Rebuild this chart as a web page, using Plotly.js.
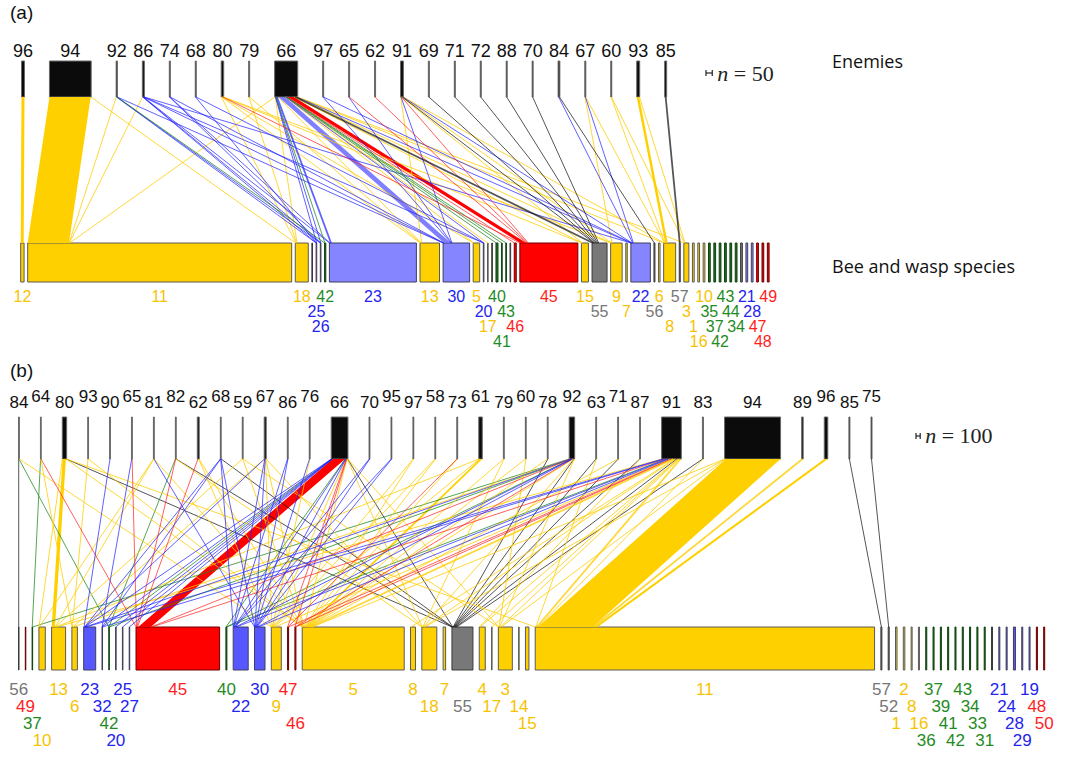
<!DOCTYPE html>
<html><head><meta charset="utf-8">
<script src="https://cdn.plot.ly/plotly-3.0.1.min.js"></script>
<style>html,body{margin:0;padding:0;background:#fff}#chart{width:1071px;height:776px}</style>
</head><body><div id="chart"></div>
<script>
// ================= Panel (a) data =================
const enemiesA = ['96','94','92','86','74','68','80','79','66','97','65','62','91','69','71','72','88','70','84','67','60','93','85'];
const beesA = ['12','11','18','','25','26','42','23','13','30','5','20','17','','40','41','43','','46','45','15','55','9','7','22','56','6','8','57','3','1','16','10','35','37','42','43','44','34','','21','28','47','48','49'];
const beeGroupsA = ['Y','Y','Y','K','B','B','G','B','Y','B','Y','B','Y','K','G','G','G','K','R','R','Y','K','Y','Y','B','K','Y','Y','K','Y','Y','Y','Y','G','G','G','G','G','G','K','B','B','R','R','R'];
const beeAbundA = [27,2112,104,5,5,5,10,696,156,212,52,5,5,5,16,5,5,5,16,464,56,120,92,12,156,8,12,96,8,40,14,14,14,14,14,14,14,14,14,14,14,14,14,14,14];
const linksA = [
 ['96','12',24],
 ['94','11',330],['94','18',4],
 ['92','11',2],['92','25',2],['92','26',2],['92','42',2],['92','30',2],
 ['86','11',2],['86','25',2],['86','26',2],['86','23',3],['86','20',2],['86','30',3],['86','22',2],
 ['74','26',3],['74','23',3],['74','30',2],
 ['68','25',4],['68','20',4],
 ['80','18',4],['80','13',4],['80','5',3],['80','45',3],['80','15',3],['80','9',3],
 ['79','18',4],['79','13',4],
 ['66','11',3],['66','18',3],['66','25',2],['66','26',2],['66','42',2],['66','23',14],['66','13',5],['66','30',55],['66','5',3],['66','20',2],['66','17',2],['66','40',4],['66','41',3],['66','43',3],['66','46',3],['66','45',50],['66','15',3],['66','55',14],['66','9',3],['66','22',3],['66','8',3],['66','3',3],
 ['97','30',4],['97','22',4],
 ['65','30',3],['65','45',5],
 ['62','45',8],
 ['91','13',3],['91','30',3],['91','45',3],['91','15',3],['91','55',3],['91','9',3],['91','22',2],['91','8',3],
 ['69','55',8],['71','55',8],['72','55',8],['88','55',8],['70','55',8],
 ['84','22',8],['84','56',6],
 ['67','9',3],['67','22',3],['67','8',2],
 ['60','8',4],['60','3',4],
 ['93','8',20],['93','3',4],
 ['85','57',16]
];

// ================= Panel (b) data =================
const enemiesB = ['84','64','80','93','90','65','81','82','62','68','59','67','86','76','66','70','95','97','58','73','61','79','60','78','92','63','71','87','91','83','94','89','96','85','75'];
const beesB = ['56','49','37','10','13','6','23','32','42','20','25','27','45','40','22','30','9','47','46','5','8','18','7','55','4','17','3','14','15','11','57','52','1','2','8','16','36','37','39','41','42','43','34','33','31','','21','24','28','29','19','48','50'];
const beeGroupsB = ['K','R','G','Y','Y','Y','B','B','G','B','B','B','R','G','B','B','Y','R','R','Y','Y','Y','Y','K','Y','Y','Y','Y','Y','Y','K','K','Y','Y','Y','Y','G','G','G','G','G','G','G','G','G','K','B','B','B','B','B','R','R'];
const beeAbundB = [12,12,12,152,333,131,286,12,12,12,12,12,1990,24,357,250,238,24,24,2429,119,357,60,500,143,12,333,12,83,8080,24,24,36,36,24,24,24,24,24,24,24,24,24,24,24,24,24,24,48,24,24,24,24];
const linksB = [
 ['84','56',10],['84','42',5],['84','9',5],
 ['64','37',6],['64','6',6],['64','45',6],
 ['80','10',6],['80','13',80],['80','5',6],['80','55',6],['80','11',6],
 ['93','6',12],['93','5',6],
 ['90','23',18],
 ['65','32',10],['65','45',10],
 ['81','10',5],['81','13',5],['81','30',5],['81','5',5],
 ['82','42',5],['82','45',5],['82','18',5],['82','55',5],
 ['62','45',30],['62','9',8],['62','5',8],
 ['68','23',4],['68','32',4],['68','22',4],['68','30',4],['68','55',4],
 ['59','13',6],['59','5',8],['59','3',6],
 ['67','6',4],['67','23',6],['67','22',8],['67','30',8],['67','9',8],['67','5',8],['67','18',6],
 ['86','22',10],['86','30',10],
 ['76','30',10],['76','9',10],
 ['66','23',6],['66','32',5],['66','42',5],['66','20',5],['66','25',5],['66','27',5],['66','45',300],['66','40',6],['66','22',8],['66','30',8],['66','9',6],['66','47',6],['66','46',6],['66','5',8],['66','18',6],['66','55',8],['66','3',6],
 ['70','22',10],['70','30',10],
 ['95','22',10],['95','30',10],
 ['97','9',10],['97','5',10],
 ['58','9',10],['58','5',10],
 ['73','47',10],['73','5',10],
 ['61','13',12],['61','9',12],['61','5',60],
 ['79','5',10],['79','18',10],
 ['60','5',10],['60','3',10],
 ['78','5',10],['78','55',10],
 ['92','37',8],['92','6',8],['92','23',10],['92','42',8],['92','40',10],['92','22',10],['92','30',10],['92','45',12],['92','46',8],['92','5',12],['92','18',12],['92','55',12],['92','3',10],
 ['63','55',10],['63','11',10],
 ['71','5',10],['71','55',10],
 ['87','55',10],['87','4',10],
 ['91','13',20],['91','32',25],['91','23',20],['91','45',30],['91','40',25],['91','22',30],['91','30',30],['91','9',30],['91','47',25],['91','46',25],['91','5',40],['91','8',20],['91','18',25],['91','55',30],['91','4',20],['91','17',10],['91','3',25],['91','11',40],
 ['83','55',12],['83','11',12],
 ['94','5',12],['94','18',10],['94','3',12],['94','11',1300],
 ['89','11',36],
 ['96','11',84],
 ['85','57',24],
 ['75','52',24]
];

// ================= styling =================
const FONT = '"Liberation Sans", Arial, sans-serif';
const LABEL_COL = {Y:'#F7C300', B:'#2424EE', G:'#1F8B24', R:'#FF1E1E', K:'#767676'};
const BORDER_COL = {Y:'#5a5a5a', B:'#40405a', G:'#0f420f', R:'#6a0000', K:'#3a3a3a'};
const LINK_COL = {Y:'rgba(255,205,0,0.78)', B:'rgba(30,30,255,0.7)', G:'rgba(30,135,30,0.75)', R:'rgba(255,30,30,0.7)', K:'rgba(20,20,20,0.72)'};

const panels = [
 {enemies:enemiesA, bees:beesA, groups:beeGroupsA, abund:beeAbundA, links:linksA,
  scale:0.125, eStart:21.5, eGap:24.95, bStart:20.7, bGap:3.6,
  eTop:61, eBot:97, bTop:243, bBot:282, eLabY:[52,52], eAlt:0, eFont:18,
  bLabY0:298, bLabStep:15, bFont:16, labPad:3,
  boxFill:{Y:'#FFD000', B:'#8585FF', G:'#1E6E1E', R:'#FF0000', K:'#787878'},
  thick:{Y:'#FFD000', B:'rgba(105,105,255,0.85)', G:'#2a8a2a', R:'#FF0000', K:'#333333'},
  tag:'(a)', tagY:14, scaleN:50, barX:706, barY:73, nText:'<i>n</i> = 50', nY:75,
  rightTexts:[['Enemies',63],['Bee and wasp species',268]]},
 {enemies:enemiesB, bees:beesB, groups:beeGroupsB, abund:beeAbundB, links:linksB,
  scale:0.042, eStart:18.5, eGap:21.1, bStart:18.5, bGap:6.3,
  eTop:417, eBot:459, bTop:627, bBot:670, eLabY:[404,398], eAlt:27, eFont:17,
  bLabY0:691, bLabStep:17, bFont:17, labPad:8,
  boxFill:{Y:'#FFD000', B:'#5757FF', G:'#1E6E1E', R:'#FF0000', K:'#787878'},
  thick:{Y:'#FFD000', B:'rgba(80,80,255,0.85)', G:'#2a8a2a', R:'#FF0000', K:'#333333'},
  tag:'(b)', tagY:372, scaleN:100, barX:916, barY:436, nText:'<i>n</i> = 100', nY:437,
  rightTexts:[]}
];

function layoutRow(sizes, start, gap, scale){
  let x = start;
  return sizes.map(s => { const n = {x0:x, x1:x + s*scale}; x = n.x1 + gap; return n; });
}

function buildPanel(P){
  const out = [];
  const L = P.links.map(([e,b,w]) => { const bi = P.bees.indexOf(b); return {e:P.enemies.indexOf(e), b:bi, w, g:P.groups[bi]}; });
  const eTot = P.enemies.map((_,i) => L.filter(l => l.e === i).reduce((s,l) => s + l.w, 0));
  const eN = layoutRow(eTot, P.eStart, P.eGap, P.scale);
  const bN = layoutRow(P.abund, P.bStart, P.bGap, P.scale);
  eN.forEach((n,i) => { let x = n.x0; L.filter(l => l.e === i).sort((p,q) => p.b - q.b).forEach(l => { l.t0 = x; x += l.w*P.scale; l.t1 = x; }); });
  bN.forEach((n,i) => {
    const ls = L.filter(l => l.b === i).sort((p,q) => p.e - q.e);
    const tot = ls.reduce((s,l) => s + l.w, 0);
    const f = tot > 0 ? Math.min(1, P.abund[i]/tot) : 1;
    let x = n.x0; ls.forEach(l => { l.b0 = x; x += l.w*P.scale*f; l.b1 = x; });
  });
  // bee boxes
  ['Y','B','G','R','K'].forEach(g => {
    const xs=[], ys=[];
    bN.forEach((n,i) => { if (P.groups[i] !== g) return; xs.push(n.x0,n.x1,n.x1,n.x0,n.x0,null); ys.push(P.bTop,P.bTop,P.bBot,P.bBot,P.bTop,null); });
    if (xs.length) out.push({type:'scatter', mode:'lines', x:xs, y:ys, fill:'toself', fillcolor:P.boxFill[g], line:{color:BORDER_COL[g], width:1}, hoverinfo:'skip'});
  });
  // enemy boxes
  {
    const xs=[], ys=[];
    eN.forEach(n => { xs.push(n.x0,n.x1,n.x1,n.x0,n.x0,null); ys.push(P.eTop,P.eTop,P.eBot,P.eBot,P.eTop,null); });
    out.push({type:'scatter', mode:'lines', x:xs, y:ys, fill:'toself', fillcolor:'#0b0b0b', line:{color:'#6a6a6a', width:1}, hoverinfo:'skip'});
  }
  // links
  const thin = {};
  L.forEach(l => {
    const wpx = l.w*P.scale;
    if (wpx >= 2.2){
      out.push({type:'scatter', mode:'lines', x:[l.t0,l.t1,l.b1,l.b0,l.t0], y:[P.eBot,P.eBot,P.bTop,P.bTop,P.eBot], fill:'toself', fillcolor:P.thick[l.g], line:{width:0, color:'rgba(0,0,0,0)'}, hoverinfo:'skip'});
    } else {
      const k = l.g + (wpx < 1.3 ? '1' : '2');
      thin[k] = thin[k] || {xs:[], ys:[], g:l.g, w:(wpx < 1.3 ? 1 : 1.8)};
      thin[k].xs.push((l.t0+l.t1)/2, (l.b0+l.b1)/2, null);
      thin[k].ys.push(P.eBot, P.bTop, null);
    }
  });
  Object.values(thin).forEach(t => out.push({type:'scatter', mode:'lines', x:t.xs, y:t.ys, line:{color:LINK_COL[t.g], width:t.w}, hoverinfo:'skip'}));
  // enemy labels
  {
    const xs=[], ys=[], ts=[]; let prevX=-1e9, prevRow=0;
    eN.forEach((n,i) => {
      const cx = (n.x0+n.x1)/2; let row = 0;
      if (cx - prevX < P.eAlt) row = 1 - prevRow;
      prevX = cx; prevRow = row;
      xs.push(cx); ys.push(P.eLabY[row]); ts.push(P.enemies[i]);
    });
    out.push({type:'scatter', mode:'text', x:xs, y:ys, text:ts, textposition:'middle center', textfont:{family:FONT, size:P.eFont, color:'#111'}, hoverinfo:'skip'});
  }
  // bee labels (first-fit rows to avoid overlap)
  {
    const xs=[], ys=[], ts=[], cs=[]; const lastRight=[];
    bN.forEach((n,i) => {
      const t = P.bees[i]; if (!t) return;
      const cx = (n.x0+n.x1)/2; const w = t.length*P.bFont*0.556;
      let r = 0; while (lastRight[r] !== undefined && cx - w/2 < lastRight[r] + P.labPad) r++;
      lastRight[r] = cx + w/2;
      xs.push(cx); ys.push(P.bLabY0 + r*P.bLabStep); ts.push(t); cs.push(LABEL_COL[P.groups[i]]);
    });
    out.push({type:'scatter', mode:'text', x:xs, y:ys, text:ts, textposition:'middle center', textfont:{family:FONT, size:P.bFont, color:cs}, hoverinfo:'skip'});
  }
  // scale bar
  const bl = P.scaleN*P.scale;
  out.push({type:'scatter', mode:'lines', x:[P.barX,P.barX+bl,null,P.barX,P.barX,null,P.barX+bl,P.barX+bl], y:[P.barY,P.barY,null,P.barY-3,P.barY+3,null,P.barY-3,P.barY+3], line:{color:'#222', width:1.2}, hoverinfo:'skip'});
  out.push({type:'scatter', mode:'text', x:[P.barX+bl+5], y:[P.nY], text:[P.nText], textposition:'middle right', textfont:{family:'"Liberation Serif", "Times New Roman", serif', size:22, color:'#222'}, hoverinfo:'skip'});
  // panel tag
  out.push({type:'scatter', mode:'text', x:[10], y:[P.tagY], text:[P.tag], textposition:'middle right', textfont:{family:FONT, size:19, color:'#111'}, hoverinfo:'skip'});
  P.rightTexts.forEach(([t,y]) => out.push({type:'scatter', mode:'text', x:[832], y:[y], text:[t], textposition:'middle right', textfont:{family:'"Open Sans", sans-serif', size:18, color:'#111'}, hoverinfo:'skip'}));
  return out;
}

const data = [].concat(...panels.map(buildPanel));
const layout = {
  width:1071, height:776, margin:{l:0, r:0, t:0, b:0},
  xaxis:{range:[0,1071], visible:false, fixedrange:true},
  yaxis:{range:[776,0], visible:false, fixedrange:true},
  showlegend:false, paper_bgcolor:'#ffffff', plot_bgcolor:'#ffffff'
};
Plotly.newPlot('chart', data, layout, {staticPlot:true, displayModeBar:false});
</script>
</body></html>
